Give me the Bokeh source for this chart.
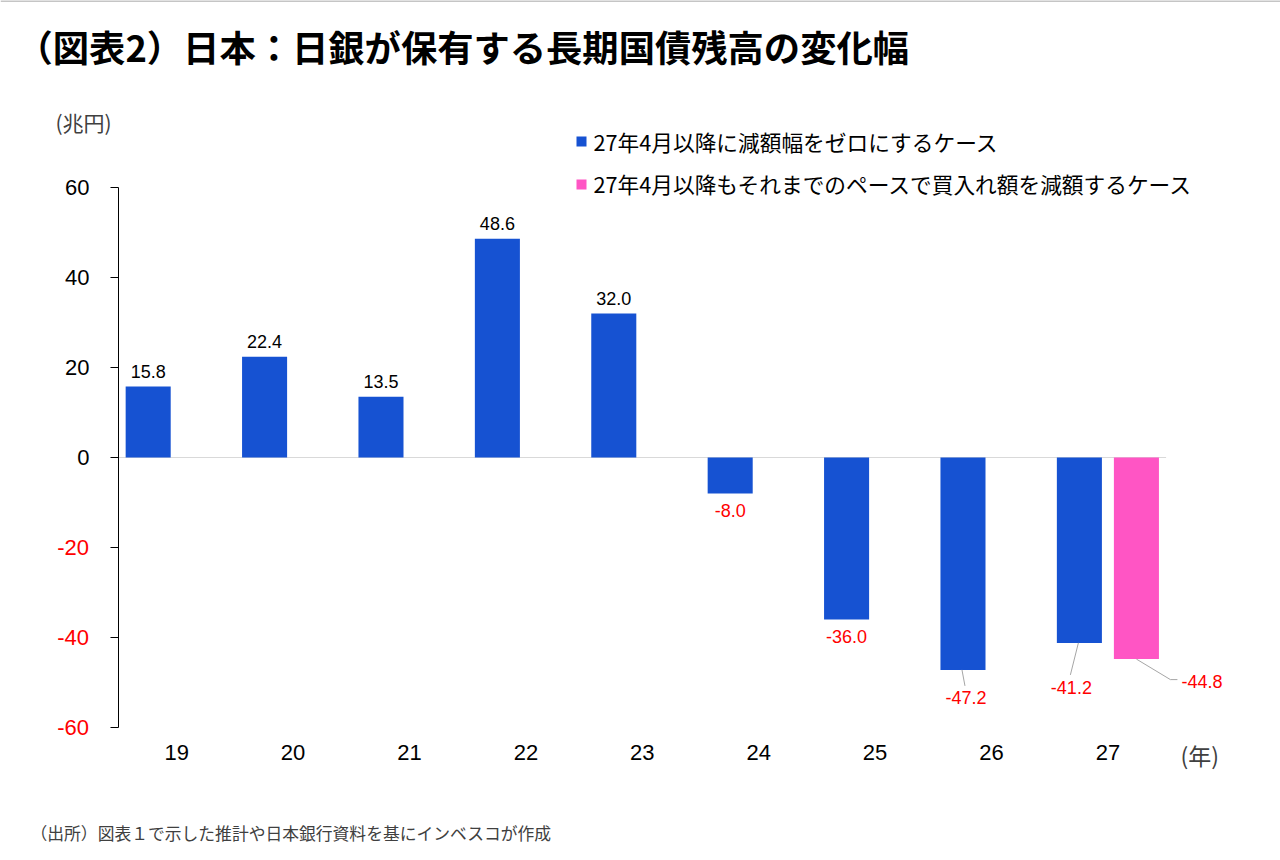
from bokeh.plotting import figure
from bokeh.models import ColumnDataSource, FixedTicker, Label, Range1d
from bokeh.embed import file_html
from bokeh.resources import INLINE
from bokeh.core.properties import value

# ---- data -------------------------------------------------------------
years = ["19", "20", "21", "22", "23", "24", "25", "26", "27"]
zero_cut_case = [15.8, 22.4, 13.5, 48.6, 32.0, -8.0, -36.0, -47.2, -41.2]
pace_case_years = ["27"]
pace_case = [-44.8]
y_ticks = [-60, -40, -20, 0, 20, 40, 60]

title_text = "（図表2）日本：日銀が保有する長期国債残高の変化幅"
legend_zero = "27年4月以降に減額幅をゼロにするケース"
legend_pace = "27年4月以降もそれまでのペースで買入れ額を減額するケース"
unit_y = "(兆円)"
unit_x = "(年)"
source_note = "（出所）図表１で示した推計や日本銀行資料を基にインベスコが作成"

# ---- styling ----------------------------------------------------------
BLUE = "#1652D2"
PINK = "#FF55C4"
RED = "#FF0000"
LEADER = "#A6A6A6"
NOTE = "#404040"
NUM_FONT = "Liberation Sans"
JP_FONT = "Noto Sans CJK JP"

W, H = 1280, 860
AXIS_X = 118              # page x of the value axis
ZERO_Y = 457              # page y of the zero line
X_UNIT = 116.4            # px per category
Y_UNIT = 4.5              # px per trillion yen
BAR_W = 0.387
SHIFT = 0.245
Y_MIN, Y_MAX = -60, 60


def dx(px):
    """page x (px) -> data x"""
    return (px - AXIS_X) / X_UNIT - 0.5


def dy(py):
    """page y (px) -> data y"""
    return (ZERO_Y - py) / Y_UNIT


# the frame covers the whole canvas; axes sit at fixed locations inside it
p = figure(
    width=W, height=H,
    x_range=Range1d(dx(0), dx(W)), y_range=Range1d(dy(H), dy(0)),
    output_backend="svg", toolbar_location=None, title_location=None,
    min_border=0,
)
p.outline_line_color = None
p.xgrid.visible = False
p.ygrid.visible = False
p.background_fill_color = "white"
p.border_fill_color = "white"

# ---- axes -------------------------------------------------------------
yax = p.yaxis[0]
yax.fixed_location = -0.5
yax.ticker = FixedTicker(ticks=y_ticks)
yax.bounds = (Y_MIN, Y_MAX)
yax.minor_tick_line_color = None
yax.major_tick_in = 0
yax.major_tick_out = 8
yax.axis_line_color = "black"
yax.major_tick_line_color = "black"
yax.major_label_standoff = 21
yax.major_label_text_font = NUM_FONT
yax.major_label_text_font_size = "22px"
yax.major_label_text_color = "black"
yax.major_label_overrides = {v: "" for v in y_ticks if v < 0}

xax = p.xaxis[0]
xax.fixed_location = Y_MIN
xax.ticker = FixedTicker(ticks=list(range(len(years))))
xax.major_label_overrides = {i: y for i, y in enumerate(years)}
xax.axis_line_color = None
xax.major_tick_line_color = None
xax.minor_tick_line_color = None
xax.major_tick_out = 0
xax.major_tick_in = 0
xax.major_label_standoff = 17
xax.major_label_text_font = NUM_FONT
xax.major_label_text_font_size = "22px"
xax.major_label_text_color = "black"

# negative tick labels in red
for v in y_ticks:
    if v < 0:
        p.add_layout(Label(x=dx(88.5), y=v, text=str(v), text_align="right",
                           text_baseline="middle", text_font=NUM_FONT,
                           text_font_size="22px", text_color=RED))

# zero line
p.segment(x0=[-0.5], y0=[0], x1=[len(years) - 0.5], y1=[0],
          line_color="#D9D9D9", line_width=1)

# thin rule along the top edge of the page
p.segment(x0=[dx(0)], y0=[dy(0.5)], x1=[dx(W)], y1=[dy(0.5)],
          line_color="#8C8C8C", line_width=1)

# ---- bars -------------------------------------------------------------
idx = list(range(len(years)))
zero_x = [i - SHIFT for i in idx]
pace_x = [years.index(y) + SHIFT for y in pace_case_years]

p.vbar(x=zero_x, top=zero_cut_case, bottom=0, width=BAR_W,
       fill_color=BLUE, line_color=None)
p.vbar(x=pace_x, top=pace_case, bottom=0, width=BAR_W,
       fill_color=PINK, line_color=None)

# ---- value labels -----------------------------------------------------
# callouts: label offset (px) from bar end, leader path offsets (px), alignment
callouts = {
    ("zero", "26"): ((3, 28), [(-1, 0), (2, 16)], "center"),
    ("zero", "27"): ((-8, 45), [(-1, 0), (-9, 32)], "center"),
    ("pace", "27"): ((45, 22), [(0, 0), (34, 20.5), (41, 20.5)], "left"),
}

lab = dict(x=[], y=[], text=[], xo=[], yo=[], color=[], align=[])
leaders_x, leaders_y = [], []
series = [("zero", zero_x, years, zero_cut_case),
          ("pace", pace_x, pace_case_years, pace_case)]
for name, xs, yrs, vals in series:
    for x, yr, v in zip(xs, yrs, vals):
        key = (name, yr)
        if key in callouts:
            (ox, oy), path, align = callouts[key]
            leaders_x.append([x + px / X_UNIT for px, _ in path])
            leaders_y.append([v - py / Y_UNIT for _, py in path])
        elif v >= 0:
            ox, oy, align = 0, -15, "center"
        else:
            ox, oy, align = 0, 17, "center"
        lab["x"].append(x)
        lab["y"].append(v)
        lab["text"].append(f"{v:.1f}")
        lab["xo"].append(ox)
        lab["yo"].append(oy)
        lab["color"].append("black" if v >= 0 else RED)
        lab["align"].append(align)

p.multi_line(xs=leaders_x, ys=leaders_y, line_color=LEADER, line_width=1)
p.text(x="x", y="y", text="text", x_offset="xo", y_offset="yo",
       text_color="color", text_align="align", text_baseline="middle",
       text_font=value(NUM_FONT), text_font_size="18px",
       source=ColumnDataSource(lab))

# ---- legend -----------------------------------------------------------
p.scatter(x=[dx(581), dx(581)], y=[dy(141), dy(184)], marker="square", size=10,
          fill_color=[BLUE, PINK], line_color=None)
for txt, py in ((legend_zero, 141), (legend_pace, 183)):
    p.add_layout(Label(x=dx(593), y=dy(py), text=txt, text_align="left",
                       text_baseline="middle", text_font=JP_FONT,
                       text_font_size="21.7px", text_color="black"))

# ---- titles and notes -------------------------------------------------
p.add_layout(Label(x=dx(16), y=dy(45), text=title_text, text_align="left",
                   text_baseline="middle", text_font=JP_FONT,
                   text_font_size="36.3px", text_font_style="bold",
                   text_color="black"))
p.add_layout(Label(x=dx(55), y=dy(121), text=unit_y, text_align="left",
                   text_baseline="middle", text_font=JP_FONT,
                   text_font_size="21px", text_color=NOTE))
p.add_layout(Label(x=dx(1180), y=dy(754), text=unit_x, text_align="left",
                   text_baseline="middle", text_font=JP_FONT,
                   text_font_size="23px", text_color=NOTE))
p.add_layout(Label(x=dx(30), y=dy(832), text=source_note, text_align="left",
                   text_baseline="middle", text_font=JP_FONT,
                   text_font_size="16.8px", text_color=NOTE))

open("out.html", "w").write(file_html(p, INLINE))
